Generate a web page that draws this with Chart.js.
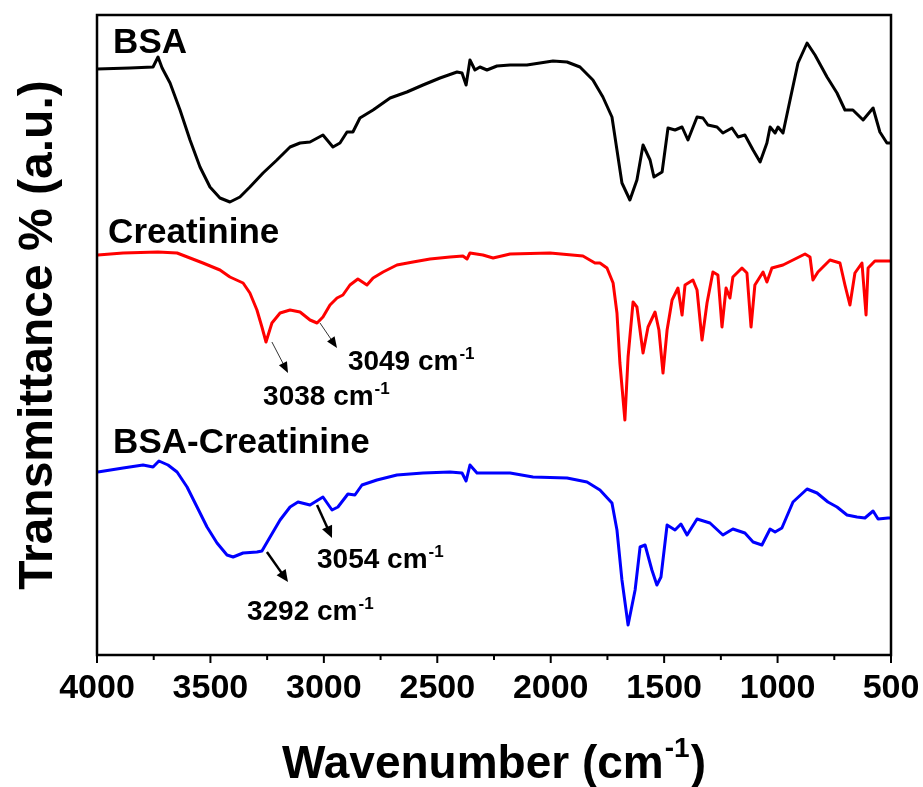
<!DOCTYPE html>
<html>
<head>
<meta charset="utf-8">
<script src="https://cdn.jsdelivr.net/npm/chart.js@4"></script>
<style>
  html, body { margin: 0; padding: 0; background: #fff; }
  #wrap { width: 923px; height: 787px; }
</style>
</head>
<body>
<div id="wrap"><canvas id="ftir" width="923" height="787"></canvas></div>
<script>
// wavenumbers (cm-1) and offset transmittance (a.u.)
const bsaWn = [4000, 3855, 3753, 3731, 3713, 3678, 3634, 3590, 3546, 3502, 3458, 3414, 3370, 3326, 3268, 3207, 3149, 3105, 3061, 3004, 2960, 2929, 2898, 2872, 2841, 2783, 2708, 2634, 2563, 2488, 2413, 2391, 2373, 2356, 2334, 2312, 2281, 2237, 2179, 2105, 1990, 1928, 1871, 1814, 1770, 1730, 1708, 1686, 1651, 1620, 1593, 1562, 1545, 1509, 1483, 1452, 1421, 1395, 1355, 1329, 1307, 1267, 1241, 1201, 1174, 1144, 1108, 1077, 1047, 1033, 1011, 998, 976, 945, 910, 870, 835, 782, 738, 703, 668, 623, 579, 549, 518, 500];
const bsaT = [586, 587, 588, 598, 587, 572, 545, 515, 488, 468, 457, 453, 458, 468, 482, 495, 508, 512, 513, 520, 508, 512, 523, 523, 537, 545, 557, 563, 570, 577, 583, 582, 570, 595, 585, 588, 585, 589, 590, 590, 594, 593, 588, 575, 558, 538, 505, 472, 455, 475, 510, 495, 478, 483, 527, 525, 528, 515, 538, 537, 530, 528, 522, 527, 518, 520, 505, 493, 512, 528, 522, 528, 522, 555, 592, 612, 600, 578, 562, 545, 545, 535, 547, 523, 512, 512];

const creWn = [3996, 3885, 3731, 3647, 3590, 3533, 3458, 3414, 3356, 3326, 3295, 3273, 3255, 3229, 3193, 3149, 3105, 3061, 3030, 3004, 2973, 2942, 2916, 2885, 2850, 2810, 2783, 2739, 2678, 2607, 2532, 2444, 2387, 2369, 2356, 2299, 2254, 2179, 2003, 1858, 1805, 1783, 1752, 1725, 1708, 1695, 1673, 1659, 1637, 1620, 1593, 1571, 1540, 1523, 1505, 1487, 1465, 1439, 1421, 1408, 1373, 1355, 1333, 1311, 1285, 1263, 1245, 1227, 1210, 1197, 1157, 1135, 1117, 1100, 1064, 1047, 1025, 976, 932, 879, 857, 844, 822, 769, 725, 703, 681, 659, 628, 610, 601, 571, 513, 500];
const creT = [400, 402, 403, 402, 397, 392, 385, 378, 372, 362, 345, 328, 313, 332, 342, 345, 343, 335, 332, 338, 350, 357, 360, 370, 376, 370, 377, 383, 390, 393, 396, 398, 399, 396, 402, 400, 397, 401, 402, 399, 392, 392, 387, 372, 342, 292, 235, 298, 353, 348, 302, 328, 343, 325, 282, 325, 355, 367, 340, 370, 375, 365, 315, 352, 383, 380, 328, 367, 357, 378, 387, 382, 328, 370, 383, 373, 387, 390, 395, 401, 398, 375, 383, 395, 392, 370, 350, 382, 392, 340, 387, 394, 394, 394];

const mixWn = [3996, 3885, 3797, 3753, 3727, 3687, 3647, 3603, 3559, 3515, 3471, 3427, 3400, 3356, 3295, 3273, 3237, 3193, 3149, 3114, 3061, 3004, 2964, 2938, 2894, 2863, 2832, 2766, 2678, 2563, 2444, 2391, 2373, 2356, 2325, 2268, 2179, 2078, 1928, 1840, 1783, 1730, 1708, 1686, 1659, 1628, 1606, 1584, 1554, 1532, 1514, 1487, 1452, 1426, 1399, 1355, 1298, 1241, 1197, 1144, 1108, 1069, 1033, 1011, 981, 932, 870, 826, 778, 738, 694, 650, 615, 579, 557, 513, 500];
const mixT = [183, 187, 190, 188, 194, 190, 183, 168, 148, 128, 112, 100, 98, 102, 103, 104, 118, 135, 148, 153, 150, 158, 145, 148, 161, 160, 170, 175, 180, 182, 183, 182, 174, 190, 182, 182, 182, 178, 177, 173, 165, 152, 125, 75, 30, 65, 108, 110, 85, 70, 78, 130, 125, 131, 120, 136, 132, 120, 126, 122, 113, 110, 126, 123, 127, 153, 166, 162, 153, 148, 140, 138, 137, 144, 136, 137, 137];

const xTicks = [500, 1000, 1500, 2000, 2500, 3000, 3500, 4000];
const minorTicks = [750, 1250, 1750, 2250, 2750, 3250, 3750];

const seriesNames = ['BSA', 'Creatinine', 'BSA-Creatinine'];
const seriesColors = ['#000000', '#ff0000', '#0000ff'];

// label anchors: [wavenumber, value] of the text's left baseline
const nameAnchors = [[3929, 602], [3951, 412], [3929, 202]];
const peakLabels = [
  { text: '3038', at: [3268, 250], from: [3229, 313], to: [3158, 282], thin: true },
  { text: '3049', at: [2894, 285], from: [3017, 332], to: [2942, 307], thin: true },
  { text: '3054', at: [3030, 87], from: [3030, 150], to: [2964, 117], thin: false },
  { text: '3292', at: [3339, 35], from: [3251, 103], to: [3158, 73], thin: false }
];

const FONT = '"Liberation Sans", Arial, sans-serif';

function pts(xs, ys) { return xs.map((x, i) => ({ x: x, y: ys[i] })); }

function drawCm(ctx, x, y, size, lead) {
  // writes "lead cm-1" with a raised -1
  ctx.font = 'bold ' + size + 'px ' + FONT;
  ctx.textAlign = 'left';
  ctx.textBaseline = 'alphabetic';
  const s = lead + 'cm';
  ctx.fillText(s, x, y);
  let w = ctx.measureText(s).width;
  const sup = Math.round(size * 0.62);
  ctx.font = 'bold ' + sup + 'px ' + FONT;
  ctx.fillText('-1', x + w + 1, y - size * 0.4);
  return w + 1 + ctx.measureText('-1').width;
}

function arrow(ctx, x1, y1, x2, y2, thin) {
  const ang = Math.atan2(y2 - y1, x2 - x1);
  const len = thin ? 11 : 12, hw = thin ? 4.5 : 5.5;
  ctx.save();
  ctx.strokeStyle = thin ? '#333' : '#000';
  ctx.fillStyle = '#000';
  ctx.lineWidth = thin ? 1 : 2.5;
  ctx.beginPath();
  ctx.moveTo(x1, y1);
  ctx.lineTo(x2 - Math.cos(ang) * len * 0.8, y2 - Math.sin(ang) * len * 0.8);
  ctx.stroke();
  ctx.beginPath();
  ctx.moveTo(x2, y2);
  ctx.lineTo(x2 - Math.cos(ang) * len - Math.sin(ang) * hw, y2 - Math.sin(ang) * len + Math.cos(ang) * hw);
  ctx.lineTo(x2 - Math.cos(ang) * len + Math.sin(ang) * hw, y2 - Math.sin(ang) * len - Math.cos(ang) * hw);
  ctx.closePath();
  ctx.fill();
  ctx.restore();
}

const decor = {
  id: 'decor',
  afterDraw(chart) {
    const ctx = chart.ctx, a = chart.chartArea;
    const xs = chart.scales.x, ys = chart.scales.y;
    ctx.save();
    // frame
    ctx.strokeStyle = '#000';
    ctx.lineWidth = 2.5;
    ctx.strokeRect(a.left, a.top, a.right - a.left, a.bottom - a.top);
    // ticks
    ctx.lineWidth = 2;
    xTicks.forEach(v => {
      const px = xs.getPixelForValue(v);
      ctx.beginPath(); ctx.moveTo(px, a.bottom); ctx.lineTo(px, a.bottom + 8); ctx.stroke();
    });
    minorTicks.forEach(v => {
      const px = xs.getPixelForValue(v);
      ctx.beginPath(); ctx.moveTo(px, a.bottom); ctx.lineTo(px, a.bottom + 5); ctx.stroke();
    });
    // series names
    ctx.fillStyle = '#000';
    ctx.font = 'bold 35px ' + FONT;
    ctx.textAlign = 'left';
    ctx.textBaseline = 'alphabetic';
    seriesNames.forEach((n, i) => {
      ctx.fillText(n, xs.getPixelForValue(nameAnchors[i][0]), ys.getPixelForValue(nameAnchors[i][1]));
    });
    // peak labels and arrows
    peakLabels.forEach(p => {
      arrow(ctx, xs.getPixelForValue(p.from[0]), ys.getPixelForValue(p.from[1]),
        xs.getPixelForValue(p.to[0]), ys.getPixelForValue(p.to[1]), p.thin);
      ctx.fillStyle = '#000';
      drawCm(ctx, xs.getPixelForValue(p.at[0]), ys.getPixelForValue(p.at[1]), 28, p.text + ' ');
    });
    // x title
    ctx.font = 'bold 46px ' + FONT;
    const main = 'Wavenumber (cm';
    const w1 = ctx.measureText(main).width;
    ctx.font = 'bold 28px ' + FONT;
    const w2 = ctx.measureText('-1').width;
    ctx.font = 'bold 46px ' + FONT;
    const w3 = ctx.measureText(')').width;
    const cx = (a.left + a.right) / 2;
    let x0 = cx - (w1 + w2 + w3 + 2) / 2;
    ctx.fillText(main, x0, 778);
    ctx.font = 'bold 28px ' + FONT;
    ctx.fillText('-1', x0 + w1 + 1, 757);
    ctx.font = 'bold 46px ' + FONT;
    ctx.fillText(')', x0 + w1 + w2 + 2, 778);
    // y title
    ctx.font = 'bold 48px ' + FONT;
    ctx.translate(52, (a.top + a.bottom) / 2);
    ctx.rotate(-Math.PI / 2);
    ctx.textAlign = 'center';
    ctx.fillText('Transmittance % (a.u.)', 0, 0);
    ctx.restore();
  }
};

const datasets = [pts(bsaWn, bsaT), pts(creWn, creT), pts(mixWn, mixT)].map((d, i) => ({
  label: seriesNames[i],
  data: d,
  borderColor: seriesColors[i],
  borderWidth: 3,
  pointRadius: 0,
  tension: 0,
  borderJoinStyle: 'round',
  fill: false
}));

new Chart(document.getElementById('ftir'), {
  type: 'line',
  data: { datasets },
  options: {
    responsive: false,
    animation: false,
    events: [],
    layout: { padding: { top: 15, right: 32, left: 0, bottom: 0 } },
    plugins: { legend: { display: false }, tooltip: { enabled: false } },
    scales: {
      x: {
        type: 'linear',
        reverse: true,
        min: 500,
        max: 4000,
        afterFit: s => { s.height = 132; },
        afterBuildTicks: s => { s.ticks = xTicks.map(v => ({ value: v })); },
        grid: { display: false, drawTicks: false },
        border: { display: false },
        ticks: {
          color: '#000',
          padding: 13,
          maxRotation: 0,
          autoSkip: false,
          callback: v => String(v),
          font: { family: FONT, size: 34, weight: 'bold' }
        }
      },
      y: {
        min: 0,
        max: 640,
        afterFit: s => { s.width = 97; },
        grid: { display: false },
        border: { display: false },
        ticks: { display: false }
      }
    }
  },
  plugins: [decor]
});
</script>
</body>
</html>
